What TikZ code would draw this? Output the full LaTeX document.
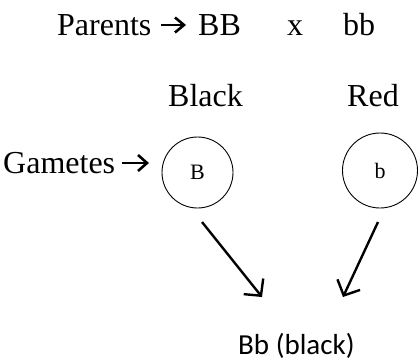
\documentclass[tikz,border=0pt]{standalone}
\usepackage{fontspec}
\setmainfont{Liberation Serif}
\newfontfamily\calfont{Carlito}
\usetikzlibrary{arrows.meta}
\begin{document}
\begin{tikzpicture}[x=1pt,y=-1pt,
  lbl/.style={anchor=base west,inner sep=0pt,font=\fontsize{32}{36}\selectfont},
  gamete/.style={draw,circle,line width=0.9pt,inner sep=0pt,font=\fontsize{22}{24}\selectfont},
  fatarrow/.style={line width=2.6pt,miter limit=10},
  link/.style={line width=2.4pt,-{Straight Barb[length=12pt,width=25pt]}}]
  \useasboundingbox (0,0) rectangle (420,362);
  % parents line
  \node[lbl] (par) at (57,35) {Parents};
  \node[lbl] (BB) at (198,35) {BB};
  \node[lbl] (cross) at (287,35) {x};
  \node[lbl] (bb) at (343,35) {bb};
  \draw[fatarrow] (161,25) -- (183,25);
  \draw[fatarrow] (175,17.5) -- (184,25) -- (175,32.5);
  % phenotypes
  \node[lbl] (black) at (168,106) {Black};
  \node[lbl] (red) at (347,106) {Red};
  % gametes
  \node[lbl] (gam) at (3,173) {Gametes};
  \draw[fatarrow] (122,163) -- (146,163);
  \draw[fatarrow] (138,155) -- (147,163) -- (138,171);
  \node[gamete,minimum size=71pt] (gB) at (197.5,172.5) {B};
  \node[gamete,minimum size=75pt] (gb) at (380,170.5) {b};
  % offspring
  \node[anchor=base west,inner sep=0pt,font=\calfont\fontsize{29}{32}\selectfont] (off) at (238,354.5) {Bb (black)};
  \coordinate (s1) at (202,222);
  \coordinate (e1) at (262,297);
  \coordinate (s2) at (378,222);
  \coordinate (e2) at (343,297);
  \draw[link] (s1) -- (e1);
  \draw[link] (s2) -- (e2);
\end{tikzpicture}
\end{document}
